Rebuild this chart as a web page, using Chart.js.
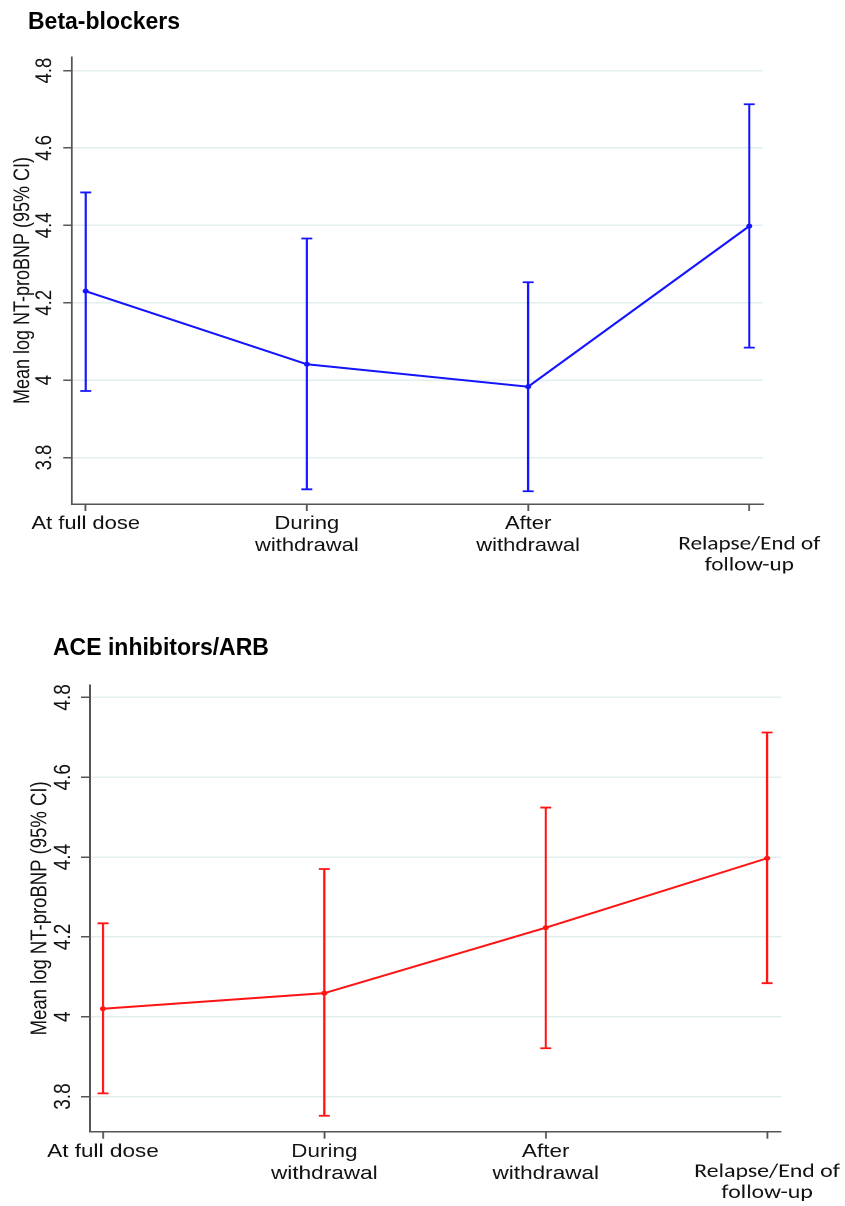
<!DOCTYPE html>
<html>
<head>
<meta charset="utf-8">
<script src="https://cdn.jsdelivr.net/npm/chart.js@4.4.1/dist/chart.umd.min.js"></script>
<style>
  body { margin: 0; width: 845px; height: 1206px; position: relative; background: #fff; overflow: hidden; }
  .ttl { position: absolute; font: bold 23px "Liberation Sans", Arial, sans-serif; line-height: 23px; color: #000; z-index: 2; white-space: nowrap; }
  canvas { position: absolute; left: 0; transform: scaleX(1.22); transform-origin: 0 0; }
</style>
</head>
<body>
<div class="ttl" style="left:28px;top:10px">Beta-blockers</div>
<div class="ttl" style="left:53px;top:636px">ACE inhibitors/ARB</div>
<canvas id="c1" width="710" height="600" style="top:0"></canvas>
<canvas id="c2" width="710" height="601" style="top:605px"></canvas>
<script>
// x categories (the last one sits a line lower) and y tick values
const categories = [['At full dose'], ['During', 'withdrawal'], ['After', 'withdrawal'], ['', 'Relapse/End of', 'follow-up']];
const yTicks = [3.8, 4.0, 4.2, 4.4, 4.6, 4.8];

// Beta-blockers: mean and 95% CI
const betaMean = [4.230, 4.041, 3.983, 4.398];
const betaLower = [3.972, 3.718, 3.713, 4.084];
const betaUpper = [4.485, 4.366, 4.253, 4.713];

// ACE inhibitors/ARB: mean and 95% CI
const aceMean = [4.020, 4.059, 4.223, 4.397];
const aceLower = [3.808, 3.752, 3.921, 4.084];
const aceUpper = [4.234, 4.370, 4.524, 4.712];

const FONT = '"Liberation Sans", Arial, sans-serif';

// vertical CI bars with caps, drawn through the chart's scales
const errorBars = {
    id: 'errorBars',
    afterDatasetsDraw(chart, args, opts) {
        const {ctx, scales: {x, y}} = chart;
        ctx.save();
        ctx.strokeStyle = opts.color;
        ctx.lineWidth = 1.8;
        opts.lower.forEach((lo, i) => {
            const px = x.getPixelForValue(i);
            const yHi = y.getPixelForValue(opts.upper[i]);
            const yLo = y.getPixelForValue(lo);
            ctx.beginPath();
            ctx.moveTo(px, yHi); ctx.lineTo(px, yLo);
            ctx.moveTo(px - 4.5, yHi); ctx.lineTo(px + 4.5, yHi);
            ctx.moveTo(px - 4.5, yLo); ctx.lineTo(px + 4.5, yLo);
            ctx.stroke();
        });
        ctx.restore();
    }
};

function makeChart(id, s) {
    return new Chart(document.getElementById(id), {
        type: 'line',
        data: {
            datasets: [{
                data: s.mean.map((v, i) => ({x: i, y: v})),
                borderColor: s.color,
                backgroundColor: s.color,
                borderWidth: 2,
                pointRadius: 2.5,
                pointBackgroundColor: s.color,
                pointBorderWidth: 0,
                tension: 0
            }]
        },
        options: {
            responsive: false,
            animation: false,
            devicePixelRatio: 2,
            layout: {padding: {left: s.padLeft, right: s.padRight, top: s.padTop, bottom: 0}},
            plugins: {
                legend: {display: false},
                tooltip: {enabled: false},
                errorBars: {color: s.color, lower: s.lower, upper: s.upper}
            },
            scales: {
                x: {
                    type: 'linear',
                    min: s.xMin, max: s.xMax,
                    afterBuildTicks: sc => { sc.ticks = categories.map((c, i) => ({value: i})); },
                    afterFit: sc => { sc.height = s.xHeight; },
                    border: {color: '#555', width: 1.5},
                    grid: {drawOnChartArea: false, drawTicks: true, tickLength: 7, tickColor: '#555', tickWidth: 1.5},
                    ticks: {
                        autoSkip: false, maxRotation: 0, padding: 2, color: '#111',
                        callback: v => categories[v],
                        font: c => c.index === 3
                            ? {family: 'Calibri, Carlito, Lato, sans-serif', size: s.fs + 1, lineHeight: '21px'}
                            : {family: FONT, size: s.fs, lineHeight: '22px'}
                    }
                },
                y: {
                    min: s.yMin, max: s.yMax,
                    afterBuildTicks: sc => { sc.ticks = yTicks.map(v => ({value: v})); },
                    afterFit: sc => { sc.width = s.yWidth; },
                    border: {color: '#555', width: 1.5},
                    grid: {color: '#e3eeee', lineWidth: 1.5, tickColor: '#555', tickLength: 7, tickWidth: 1.5},
                    title: {display: true, text: 'Mean log NT-proBNP (95% CI)', color: '#111', padding: 0,
                            font: {family: FONT, size: s.fs}},
                    ticks: {
                        minRotation: 90, maxRotation: 90, crossAlign: 'center', padding: s.tickPad, color: '#111',
                        font: {family: FONT, size: s.fs + 0.5},
                        callback: v => String(+v.toFixed(1))
                    }
                }
            }
        },
        plugins: [errorBars]
    });
}

makeChart('c1', {
    mean: betaMean, lower: betaLower, upper: betaUpper, color: '#1414ff',
    padLeft: 8, padRight: 84.6, padTop: 57, yWidth: 50.8, xHeight: 96, tickPad: 2,
    xMin: -0.063, xMax: 3.062, yMin: 3.680, yMax: 4.835, fs: 18
});
makeChart('c2', {
    mean: aceMean, lower: aceLower, upper: aceUpper, color: '#ff1414',
    padLeft: 22, padRight: 69.8, padTop: 80, yWidth: 51.5, xHeight: 74.3, tickPad: 1,
    xMin: -0.060, xMax: 3.063, yMin: 3.712, yMax: 4.831, fs: 18.5
});
</script>
</body>
</html>
